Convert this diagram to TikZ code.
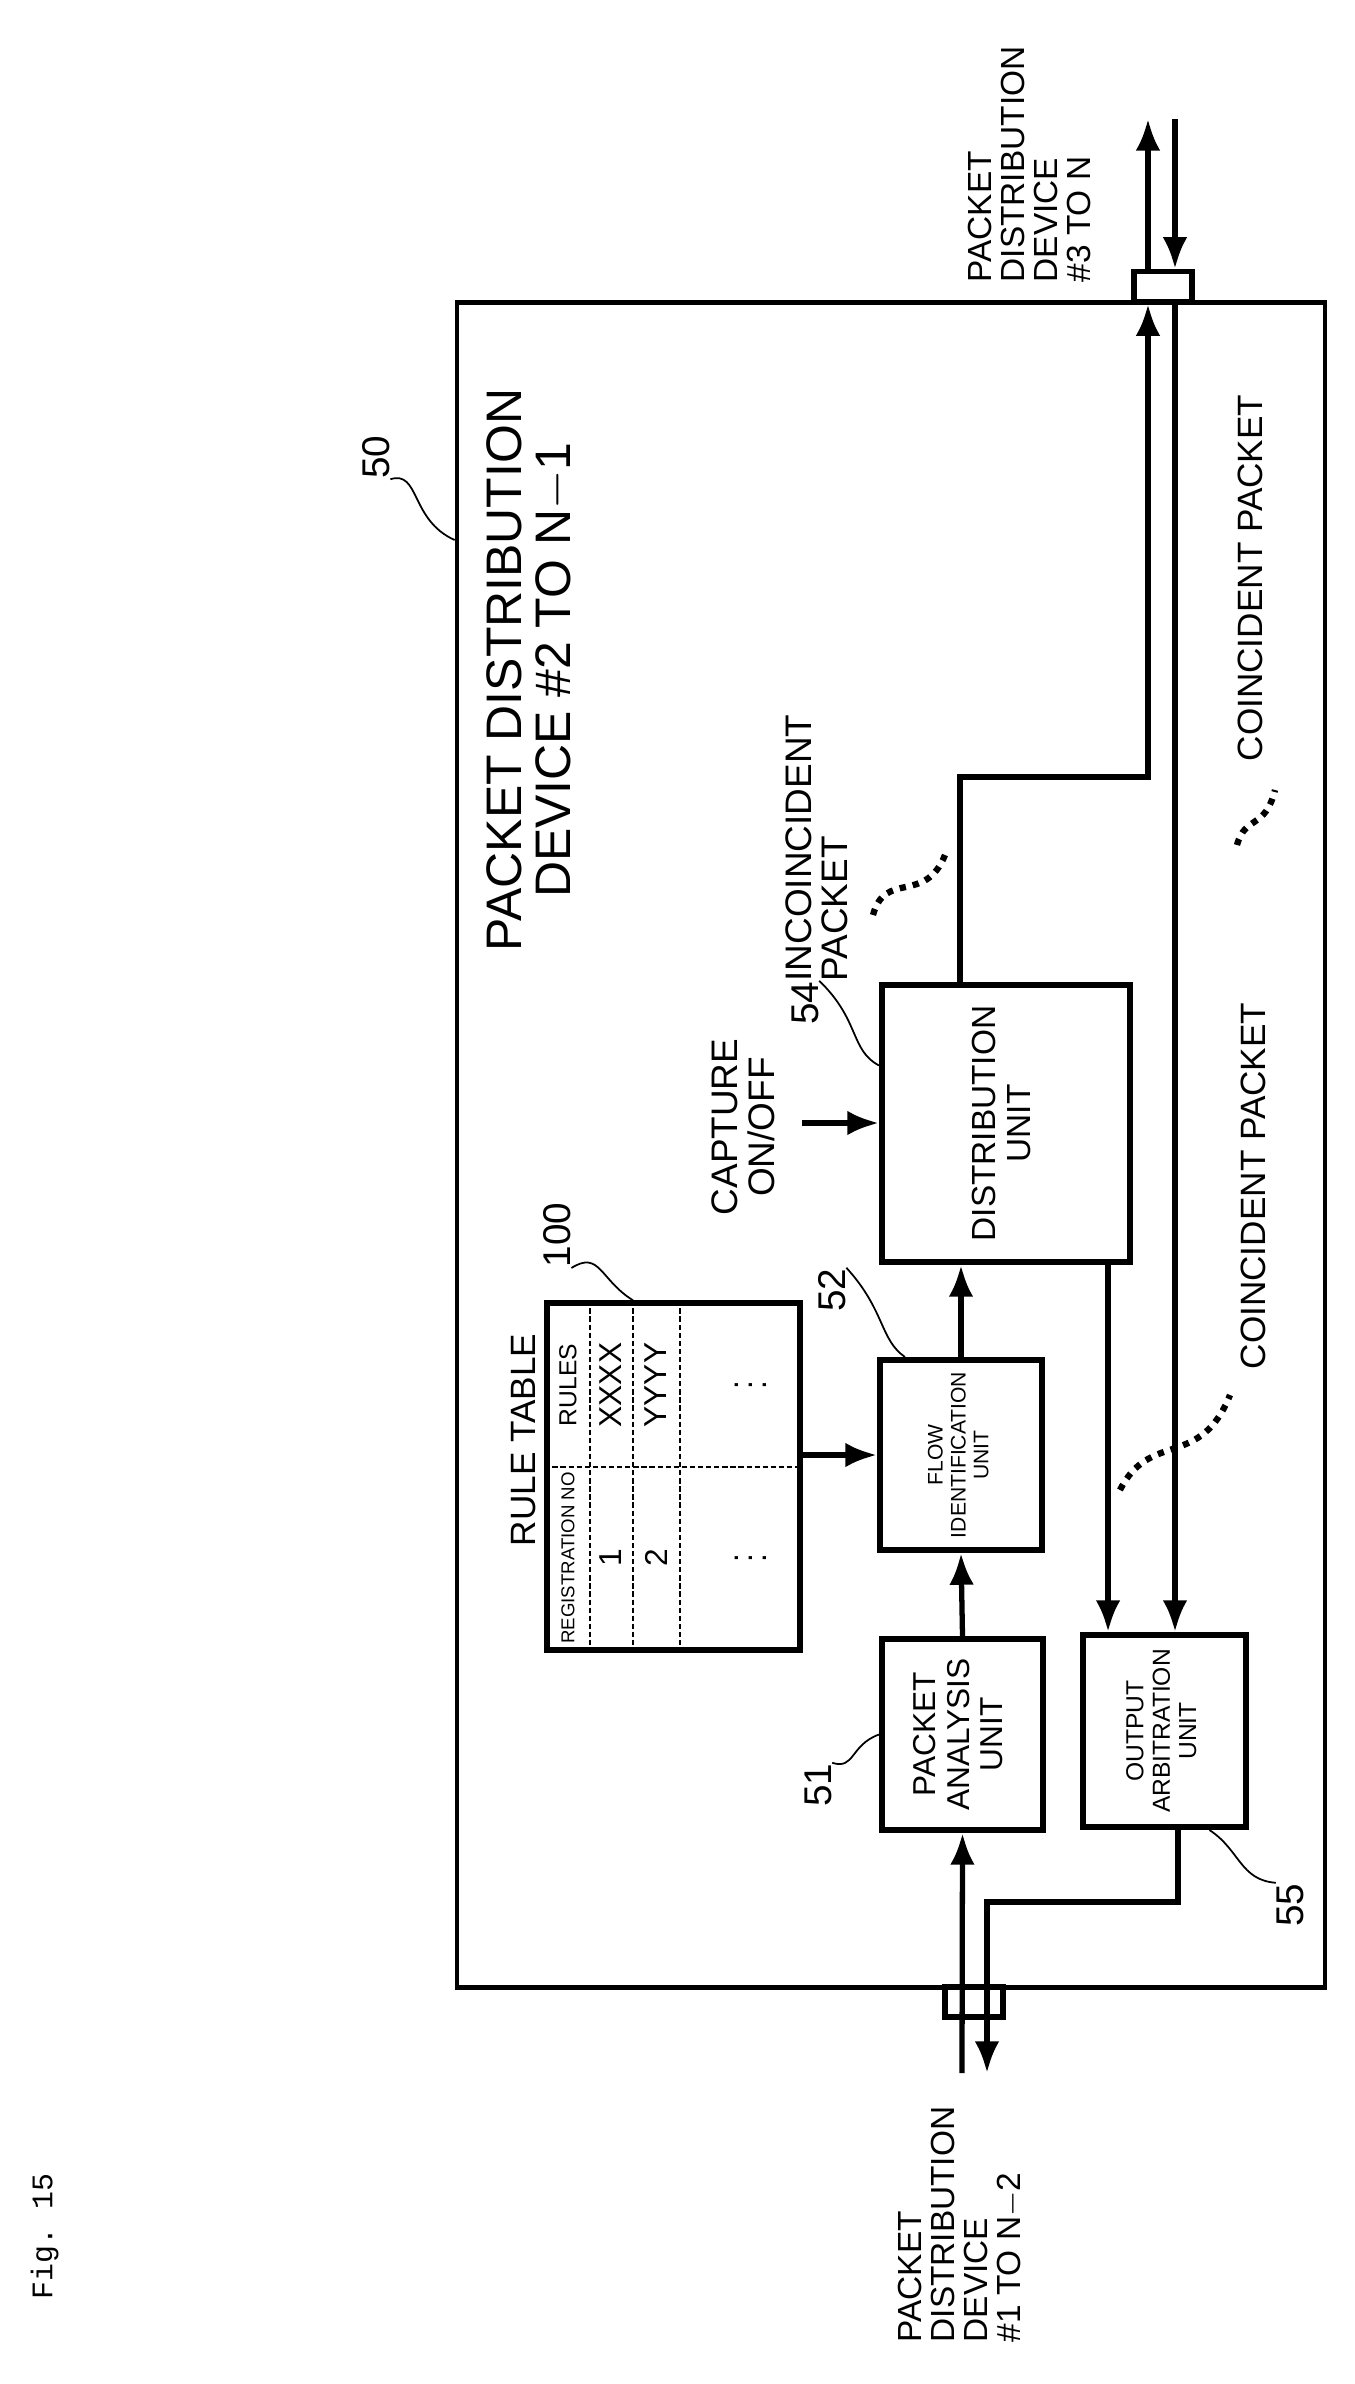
\documentclass[tikz,border=0pt]{standalone}
\usepackage{fontspec}
\setmainfont{Liberation Sans}
\setmonofont{Liberation Mono}
\usepackage{graphicx}
\usetikzlibrary{arrows.meta, positioning, calc}

\newcommand{\rotc}[1]{\rotatebox{90}{\begin{tabular}{@{}c@{}}#1\end{tabular}}}
\newcommand{\rotl}[1]{\rotatebox{90}{\begin{tabular}{@{}l@{}}#1\end{tabular}}}

\begin{document}
\begin{tikzpicture}[
      x=0.01cm, y=-0.01cm,
      unit/.style  ={rectangle, draw, line width=1.7pt, inner sep=0pt},
      port/.style  ={rectangle, draw, line width=1.5pt, fill=white, minimum width=0.58cm, minimum height=0.30cm, inner sep=0pt},
      wire/.style  ={line width=1.5pt},
      tip/.style   ={-{Latex[length=9pt,width=7pt]}},
      lbl/.style   ={font=\fontsize{9.5}{9.4}\selectfont, inner sep=0pt},
      num/.style   ={font=\fontsize{11}{11}\selectfont, inner sep=0pt},
      leader/.style={line width=0.5pt},
      wavy/.style  ={line width=1.8pt, dotted},
      cell/.style  ={line width=0.5pt, dashed, dash pattern=on 1.5pt off 0.8pt}
    ]
    \useasboundingbox (0,0) rectangle (1354,2384);

    % Device frame
    \node[rectangle, draw, line width=1.2pt, minimum width=8.68cm, minimum height=16.84cm] (DEV) at (891,1145) {};
    \node[font=\fontsize{14.2}{14}\selectfont, inner sep=0pt] (title) at (536,670)
      {\rotc{PACKET DISTRIBUTION\\DEVICE \#2 TO N$-$1}};
    \node[num] (n50) at (376,457) {\rotatebox{90}{50}};
    \draw[leader] (n50.south east) .. controls (420,470) and (410,520) .. (DEV.west |- 0,540);

    % Units
    \node[unit, minimum width=1.61cm, minimum height=1.91cm] (PA) at (962.5,1734.5)
      {\fontsize{9}{9.5}\selectfont\rotc{PACKET\\ANALYSIS\\UNIT}};
    \node[unit, minimum width=1.62cm, minimum height=1.90cm] (FI) at (961,1455)
      {\fontsize{6}{6.5}\selectfont\rotc{FLOW\\IDENTIFICATION\\UNIT}};
    \node[unit, minimum width=2.48cm, minimum height=2.77cm] (DU) at (1006,1123.5)
      {\fontsize{9.5}{10}\selectfont\rotc{DISTRIBUTION\\UNIT}};
    \node[unit, minimum width=1.63cm, minimum height=1.92cm] (OA) at (1164.5,1731)
      {\fontsize{7}{7.5}\selectfont\rotc{OUTPUT\\ARBITRATION\\UNIT}};

    \node[num] (n51) at (818,1785) {\rotatebox{90}{51}};
    \node[num] (n52) at (832,1290) {\rotatebox{90}{52}};
    \node[num] (n54) at (805,1003) {\rotatebox{90}{54}};
    \node[num] (n55) at (1290,1905) {\rotatebox{90}{55}};
    \draw[leader] (n51.north east) .. controls (855,1770) and (850,1745) .. (PA.west);
    \draw[leader] (n52.north east) .. controls (885,1310) and (880,1340) .. ([xshift=-0.56cm]FI.north);
    \draw[leader] (n54.north east) .. controls (860,1020) and (850,1050) .. ([yshift=0.58cm]DU.west);
    \draw[leader] ([xshift=0.45cm]OA.south) .. controls (1240,1850) and (1240,1880) .. (n55.north west);

    % Rule table
    \node[rectangle, draw, line width=1.5pt, minimum width=2.53cm, minimum height=3.47cm] (RT) at (673.5,1476.5) {};
    \foreach \c in {590,633,680}
      \draw[cell] (\c,0 |- RT.north) -- (\c,0 |- RT.south);
    \draw[cell] (RT.west |- 0,1467) -- (RT.east |- 0,1467);
    \node[font=\fontsize{5.3}{5.3}\selectfont, inner sep=0pt] (hReg) at (568,1558) {\rotatebox{90}{REGISTRATION NO}};
    \node[font=\fontsize{7}{7}\selectfont, inner sep=0pt] (hRul) at (568,1385) {\rotatebox{90}{RULES}};
    \node[font=\fontsize{9}{9}\selectfont, inner sep=0pt] (r1a) at (611,1558) {\rotatebox{90}{1}};
    \node[font=\fontsize{9}{9}\selectfont, inner sep=0pt] (r1b) at (611,1385) {\rotatebox{90}{XXXX}};
    \node[font=\fontsize{9}{9}\selectfont, inner sep=0pt] (r2a) at (656,1558) {\rotatebox{90}{2}};
    \node[font=\fontsize{9}{9}\selectfont, inner sep=0pt] (r2b) at (656,1385) {\rotatebox{90}{YYYY}};
    \node[font=\fontsize{9}{9}\selectfont, inner sep=0pt] (r3a) at (740,1558) {\rotatebox{90}{$\vdots$}};
    \node[font=\fontsize{9}{9}\selectfont, inner sep=0pt] (r3b) at (740,1385) {\rotatebox{90}{$\vdots$}};
    \node[font=\fontsize{10}{10}\selectfont, inner sep=0pt] (rtl) at (524,1440) {\rotatebox{90}{RULE TABLE}};
    \node[num] (n100) at (557,1235) {\rotatebox{90}{100}};
    \draw[leader] (n100.south east) .. controls (600,1250) and (600,1280) .. (633,0 |- RT.north);

    % Ports
    \node[port] (BP) at (974,2002) {};
    \node[port] (TP) at (1163,286.5) {};

    % Packet flow
    \coordinate (inA)  at (962,2073);
    \coordinate (outB) at (987,2073);
    \coordinate (oaT)  at (987,1902);
    \coordinate (duT)  at (960,777);
    \draw[wire, tip] (inA) -- (PA.south);
    \draw[wire, tip] (PA.north) -- (FI.south);
    \draw[wire, tip] (FI.north) -- (FI.north |- DU.south);
    \draw[wire, tip] (RT.east |- FI.west) -- (FI.west);
    \draw[wire, tip] ([xshift=0.135cm]OA.south) |- (oaT) -- (outB);
    \draw[wire, tip] (DU.north -| duT) -- (duT) -| ([xshift=-0.15cm]TP.south);
    \draw[wire, tip] ([xshift=-0.15cm]TP.north) -- ++(0,-150);
    \draw[wire, tip] ([xshift=0.12cm]TP.north) ++(0,-150) -- ([xshift=0.12cm]TP.north);
    \draw[wire, tip] ([xshift=0.12cm]TP.south) -- ([xshift=0.12cm]TP.south |- OA.north);
    \draw[wire, tip] ([xshift=1.02cm]DU.south) -- ([xshift=1.02cm]DU.south |- OA.north);

    % Capture control
    \coordinate (cap) at (802,1123);
    \draw[wire, tip] (cap) -- (cap -| DU.west);
    \node[font=\fontsize{10.5}{9.6}\selectfont, inner sep=0pt] (capl) at (748,1127) {\rotc{CAPTURE\\ON/OFF}};

    % Outside labels
    \node[lbl, anchor=south west] (devR) at (967,283) {\rotl{PACKET\\DISTRIBUTION\\DEVICE\\\#3 TO N}};
    \node[lbl, anchor=south west] (devL) at (897,2343) {\rotl{PACKET\\DISTRIBUTION\\DEVICE\\\#1 TO N$-$2}};
    \node[font=\ttfamily\fontsize{8.5}{8.5}\selectfont, inner sep=0pt, anchor=south west] (fig) at (30,2300) {\rotatebox{90}{Fig. 15}};

    % Packet kinds
    \node[font=\fontsize{10.5}{9.6}\selectfont, inner sep=0pt, anchor=south west] (inc) at (785,982) {\rotl{INCOINCIDENT\\PACKET}};
    \node[font=\fontsize{10}{10}\selectfont, inner sep=0pt, anchor=south west] (coA) at (1237,762) {\rotatebox{90}{COINCIDENT PACKET}};
    \node[font=\fontsize{10}{10}\selectfont, inner sep=0pt, anchor=south west] (coB) at (1240,1370) {\rotatebox{90}{COINCIDENT PACKET}};
    \draw[wavy] (873,915) .. controls (885,870) and (925,905) .. (945,855);
    \draw[wavy] (1237,845) .. controls (1245,815) and (1265,830) .. (1275,790);
    \draw[wavy] (1120,1490) .. controls (1150,1430) and (1200,1470) .. (1230,1395);
\end{tikzpicture}
\end{document}
